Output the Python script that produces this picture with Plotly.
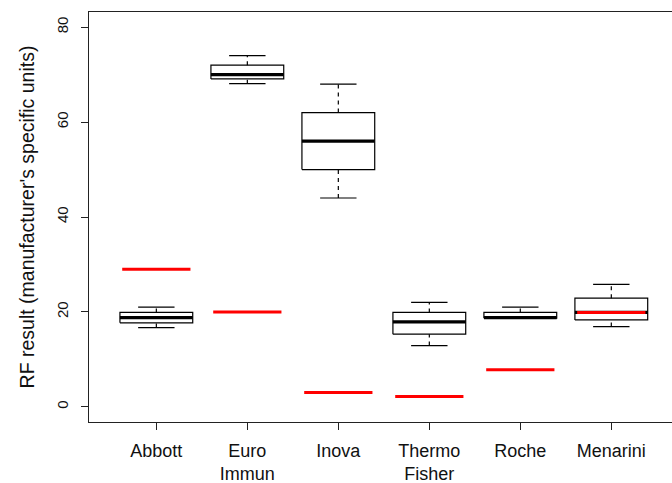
import plotly.graph_objects as go

categories = ["Abbott", "Euro<br>Immun", "Inova", "Thermo<br>Fisher", "Roche", "Menarini"]
whisker_lo = [16.7, 68.1, 44.0, 12.9, 18.7, 16.9]
q1 = [17.7, 69.1, 50.0, 15.3, 18.7, 18.3]
median = [18.8, 70.0, 56.0, 17.9, 18.8, 19.9]
q3 = [19.9, 72.0, 62.0, 19.9, 19.9, 22.9]
whisker_hi = [21.0, 74.0, 68.0, 22.0, 21.0, 25.8]
reference = [29.0, 20.0, 3.0, 2.2, 7.8, 19.9]
y_ticks = [0, 20, 40, 60, 80]

BOX_HALF = 0.4
CAP_HALF = 0.2
REF_HALF = 0.375
pos = list(range(1, len(categories) + 1))

fig = go.Figure()

def add_line(xs, ys, color="black", width=1.2, dash="solid"):
    fig.add_trace(go.Scatter(x=xs, y=ys, mode="lines", showlegend=False, hoverinfo="skip",
                             line=dict(color=color, width=width, dash=dash)))

for i, p in enumerate(pos):
    add_line([p, p], [q3[i], whisker_hi[i]], dash="4px,4px")
    add_line([p, p], [whisker_lo[i], q1[i]], dash="4px,4px")
    add_line([p - CAP_HALF, p + CAP_HALF], [whisker_hi[i]] * 2)
    add_line([p - CAP_HALF, p + CAP_HALF], [whisker_lo[i]] * 2)
    add_line([p - BOX_HALF, p + BOX_HALF, p + BOX_HALF, p - BOX_HALF, p - BOX_HALF],
             [q1[i], q1[i], q3[i], q3[i], q1[i]])
    add_line([p - BOX_HALF, p + BOX_HALF], [median[i]] * 2, width=3.2)

for i, p in enumerate(pos):
    add_line([p - REF_HALF, p + REF_HALF], [reference[i]] * 2, color="#ff0000", width=3)

font = "Liberation Sans, Arial, Helvetica, sans-serif"
fig.update_layout(
    width=672, height=483,
    margin=dict(l=89, r=0, t=12, b=61),
    plot_bgcolor="white", paper_bgcolor="white",
    font=dict(family=font, color="black", size=14),
    xaxis=dict(range=[0.26, 6.667], tickvals=pos, ticktext=categories, automargin=False,
               showgrid=False, zeroline=False, showline=True, mirror=True,
               linecolor="#222", linewidth=1, ticks="outside", ticklen=7,
               tickcolor="#222", ticklabelstandoff=5,
               tickfont=dict(size=18, family=font, color="#111")),
    yaxis=dict(range=[-3.2, 83.2], tickvals=y_ticks, ticktext=[str(v) for v in y_ticks],
               automargin=False,
               showgrid=False, zeroline=False, showline=True,
               linecolor="#222", linewidth=1, ticks="outside", ticklen=7,
               tickcolor="#222", tickangle=-90, ticklabelstandoff=7,
               tickfont=dict(size=15, family=font, color="#111"),
               title=dict(text="RF result (manufacturer's specific units)",
                          font=dict(size=19.5, family=font, color="#111"), standoff=14)),
)

fig.write_html("out.html")
